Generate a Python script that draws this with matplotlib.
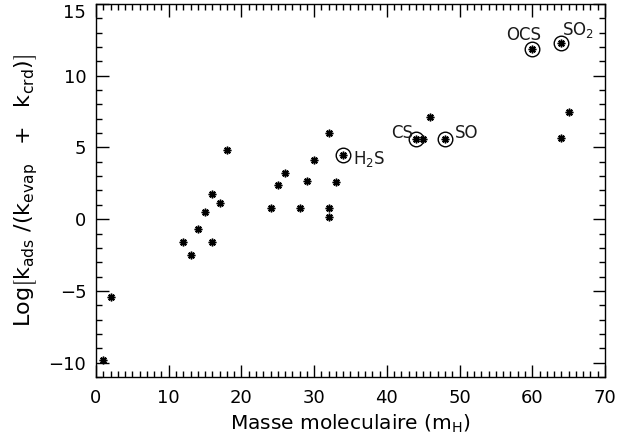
import numpy as np
import matplotlib.pyplot as plt
from matplotlib.ticker import MultipleLocator

# masse moleculaire (m_H) et log du rapport
masse = [1, 2, 12, 13, 14, 15, 16, 16, 17, 18,
         24, 25, 26, 28, 29, 30, 32, 32, 32, 33,
         34, 44, 45, 46, 48, 60, 64, 64, 65]
logk = [-9.8, -5.4, -1.6, -2.5, -0.7, 0.5, -1.6, 1.75, 1.1, 4.8,
        0.8, 2.35, 3.25, 0.8, 2.65, 4.15, 0.8, 0.15, 6.0, 2.6,
        4.45, 5.6, 5.6, 7.15, 5.6, 11.85, 12.3, 5.65, 7.45]

# especes soufrees entourees
especes = ['H$_2$S', 'CS', 'SO', 'OCS', 'SO$_2$']
masse_esp = [34, 44, 48, 60, 64]
logk_esp = [4.45, 5.6, 5.6, 11.85, 12.3]

plt.rcParams['font.family'] = 'DejaVu Sans'
plt.rcParams['mathtext.fontset'] = 'dejavusans'

fig = plt.figure(figsize=(6.18, 4.44), dpi=100)
ax = fig.add_axes([0.1553, 0.151, 0.8237, 0.84])

ax.plot(masse, logk, linestyle='none', marker=(8, 2, 0), markersize=5.5,
        markeredgewidth=1.1, color='black')
ax.plot(masse_esp, logk_esp, linestyle='none', marker='o', markersize=10.5,
        markerfacecolor='none', markeredgecolor='black', markeredgewidth=1.0)

# position des etiquettes (decalage en points, alignement)
decalage = [(7, -3), (-2, 4.5), (7, 4), (-6, 10.5), (0.5, 9)]
alignement = ['left', 'right', 'left', 'center', 'left']
for nom, x, y, d, ha in zip(especes, masse_esp, logk_esp, decalage, alignement):
    ax.annotate(nom, (x, y), xytext=d, textcoords='offset points',
                ha=ha, va='center', fontsize=12, color='#1a1a1a')

ax.set_xlim(0, 70)
ax.set_ylim(-11, 15)
ax.xaxis.set_major_locator(MultipleLocator(10))
ax.xaxis.set_minor_locator(MultipleLocator(1))
ax.set_yticks([-10, -5, 0, 5, 10, 15])
ax.yaxis.set_minor_locator(MultipleLocator(1))
ax.tick_params(which='both', direction='in', top=True, right=True,
               labelsize=13, color='black')
ax.tick_params(axis='y', pad=7)
ax.tick_params(axis='x', pad=9)
ax.tick_params(which='major', length=9, width=1)
ax.tick_params(which='minor', length=4, width=1)
for s in ax.spines.values():
    s.set_linewidth(1)
# le 15 du haut descend sous le bord comme sur l'original
ax.get_yticklabels()[-1].set_va('top')

ax.set_xlabel('Masse moleculaire (m$_\\mathregular{H}$)', fontsize=14.5)
ax.set_ylabel(r'Log$\left[\mathregular{k_{ads}\ /(k_{evap}\ \ +\ \ k_{crd})}\right]$',
              fontsize=16, labelpad=6)

fig.savefig('out.png', dpi=100)
